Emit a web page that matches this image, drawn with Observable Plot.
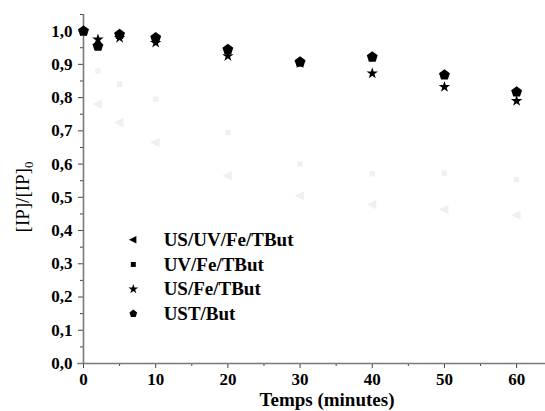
<!DOCTYPE html>
<html><head><meta charset="utf-8">
<script src="https://cdn.jsdelivr.net/npm/d3@7"></script>
<script src="https://cdn.jsdelivr.net/npm/@observablehq/plot@0.6"></script>
<style>body{margin:0;background:#fff}svg{display:block}</style>
</head><body><div id="chart"></div>
<script>
const times = [0, 2, 5, 10, 20, 30, 40, 50, 60];
const usUvFe = [1.0, 0.78, 0.725, 0.665, 0.565, 0.505, 0.478, 0.463, 0.447];
const uvFe = [1.0, 0.88, 0.84, 0.795, 0.695, 0.60, 0.571, 0.573, 0.553];
const usFe = [1.0, 0.975, 0.98, 0.965, 0.925, 0.904, 0.873, 0.832, 0.79];
const ustBut = [1.0, 0.955, 0.99, 0.98, 0.945, 0.907, 0.922, 0.868, 0.817];
const seriesNames = ["US/UV/Fe/TBut", "UV/Fe/TBut", "US/Fe/TBut", "UST/But"];
const xTicks = [0, 10, 20, 30, 40, 50, 60];
const xMinor = [5, 15, 25, 35, 45, 55];
const yTicks = [0, 0.1, 0.2, 0.3, 0.4, 0.5, 0.6, 0.7, 0.8, 0.9, 1.0];
const yMinor = [0.05, 0.15, 0.25, 0.35, 0.45, 0.55, 0.65, 0.75, 0.85, 0.95, 1.05];

const leftTri = {draw(ctx, size) {
  const r = Math.sqrt(size) * 0.75;
  ctx.moveTo(-r, 0); ctx.lineTo(r * 0.7, -r * 0.85); ctx.lineTo(r * 0.7, r * 0.85); ctx.closePath();
}};
const pentagon = {draw(ctx, size) {
  const r = Math.sqrt(size) * 0.62;
  for (let k = 0; k < 5; k++) {
    const a = -Math.PI / 2 + k * 2 * Math.PI / 5;
    const x = r * Math.cos(a), y = r * Math.sin(a);
    k ? ctx.lineTo(x, y) : ctx.moveTo(x, y);
  }
  ctx.closePath();
}};

const mk = (vals, name) => times.map((t, i) => ({t, v: vals[i], name}));
const s1 = mk(usUvFe, seriesNames[0]);
const s2 = mk(uvFe, seriesNames[1]);
const s3 = mk(usFe, seriesNames[2]);
const s4 = mk(ustBut, seriesNames[3]);
const symbols = [leftTri, "square", "star", pentagon];
const legendSizes = [4.2, 3.0, 3.6, 5.2];

const fmt = d => d.toFixed(1).replace(".", ",");
const font = "'Liberation Serif', 'Times New Roman', serif";

const plot = Plot.plot({
  width: 545, height: 411,
  marginLeft: 83, marginRight: 0, marginTop: 14, marginBottom: 48,
  style: {fontFamily: font, fontSize: "16px", fontWeight: "bold", color: "#000", background: "#fff"},
  x: {domain: [0, 64], label: null},
  y: {domain: [0, 1.05], label: null},
  marks: [
    Plot.axisX({ticks: xMinor, tickSize: 3, tickFormat: () => "", label: null, stroke: "#444"}),
    Plot.axisY({ticks: yMinor, tickSize: 3, tickFormat: () => "", label: null, stroke: "#444"}),
    Plot.axisX({ticks: xTicks, tickSize: 5, tickPadding: 4, tickFormat: d => String(d), label: null, stroke: "#444", fontSize: 17, fontWeight: "bold"}),
    Plot.axisY({ticks: yTicks, tickSize: 5, tickPadding: 6, tickFormat: fmt, label: null, stroke: "#444", fontSize: 17, fontWeight: "bold"}),
    Plot.ruleY([0], {x1: -0.8, x2: 64, stroke: "#7a7a7a", strokeWidth: 1.6}),
    Plot.ruleX([0], {y1: 0, y2: 1.05, stroke: "#7a7a7a", strokeWidth: 1.6}),
    Plot.dot(s1, {x: "t", y: "v", symbol: () => leftTri, r: 4.2, fill: "#f0f0f0", stroke: null}),
    Plot.dot(s2, {x: "t", y: "v", symbol: () => "square", r: 3.0, fill: "#f0f0f0", stroke: null}),
    Plot.dot(s3, {x: "t", y: "v", symbol: () => "star", r: 3.6, fill: "#000", stroke: null}),
    Plot.dot(s4, {x: "t", y: "v", symbol: () => pentagon, r: 5.2, fill: "#000", stroke: null}),
    Plot.dot(seriesNames, {x: () => 6.9, y: (d, i) => 0.372 - i * 0.074, symbol: (d, i) => symbols[i], r: (d, i) => legendSizes[i], fill: "#000", stroke: null}),
    Plot.text(seriesNames, {x: () => 11.1, y: (d, i) => 0.372 - i * 0.074, text: d => d, textAnchor: "start", fontSize: 19, fontWeight: "bold", fill: "#000", fontFamily: font})
  ]
});
document.getElementById("chart").appendChild(plot);

const svg = d3.select(plot);
svg.append("text")
  .attr("x", 327).attr("y", 406)
  .attr("text-anchor", "middle")
  .style("font-family", font).style("font-size", "19px").style("font-weight", "bold")
  .text("Temps (minutes)");
const yl = svg.append("text")
  .attr("transform", "translate(29,197) rotate(-90)")
  .attr("text-anchor", "middle")
  .style("font-family", font).style("font-size", "19px").style("font-weight", "normal");
yl.append("tspan").text("[IP]/[IP]");
yl.append("tspan").attr("dy", "0.3em").style("font-size", "13px").text("0");
</script>
</body></html>
